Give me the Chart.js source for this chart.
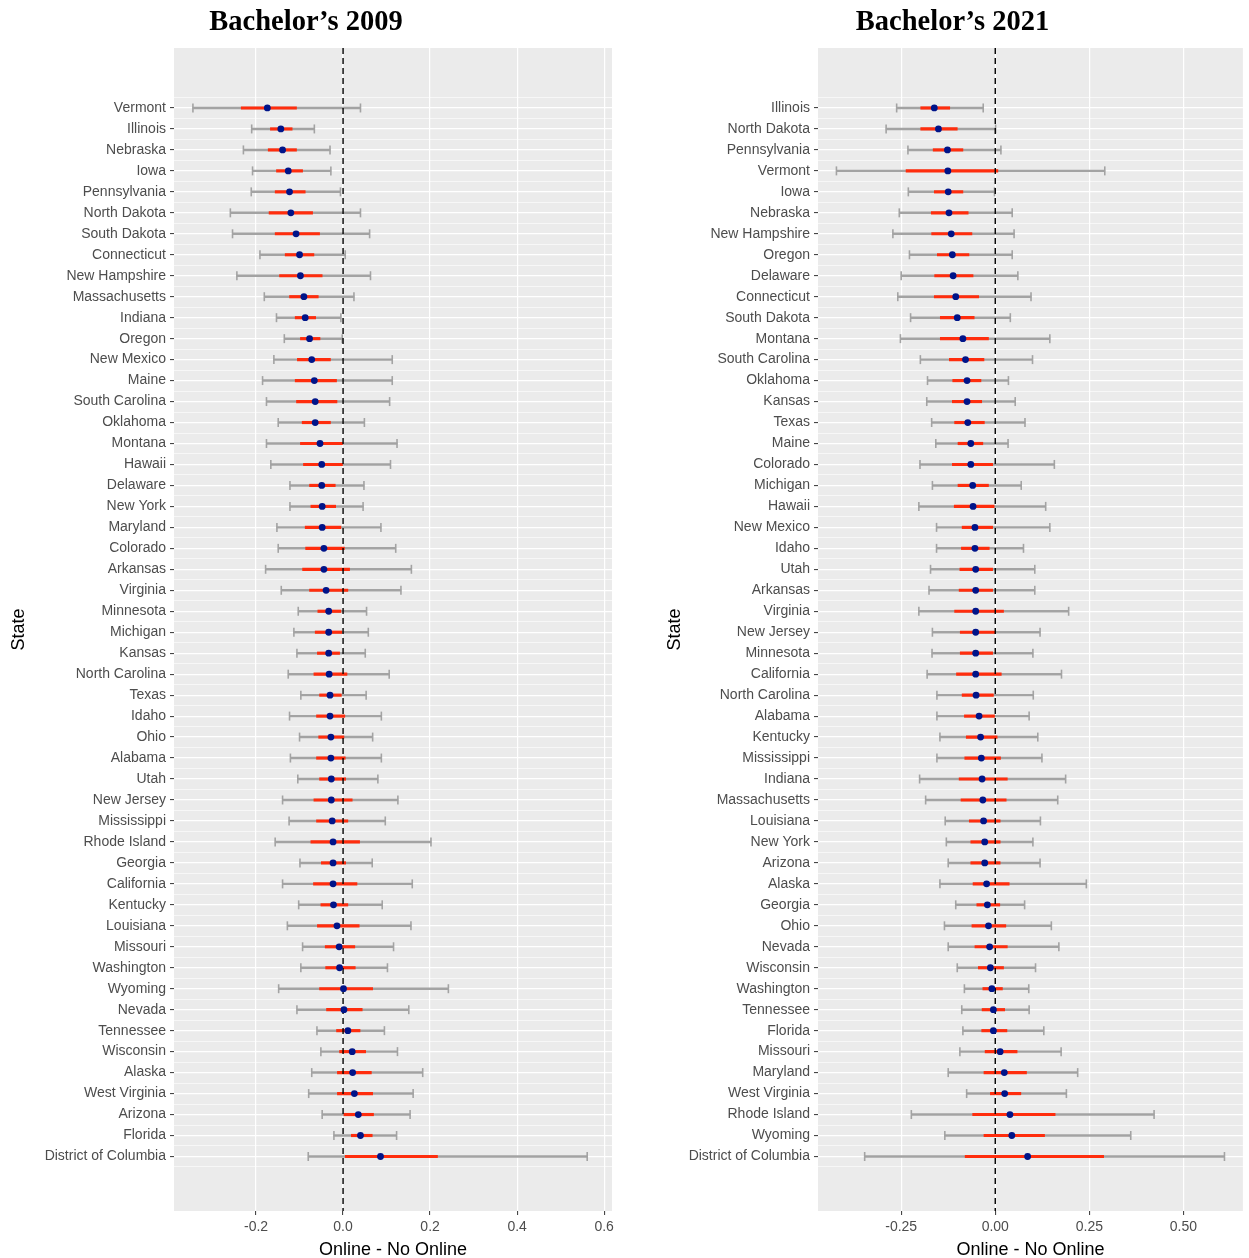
<!DOCTYPE html>
<html>
<head>
<meta charset="utf-8">
<script src="https://cdn.jsdelivr.net/npm/chart.js@4.4.1/dist/chart.umd.min.js"></script>
<style>
html, body { margin: 0; padding: 0; background: #fff; }
#wrap { position: relative; width: 1249px; height: 1258px; }
#box1 { position: absolute; left: 0; top: 0; width: 620px; height: 1258px; }
#box2 { position: absolute; left: 656px; top: 0; width: 593px; height: 1258px; }
</style>
</head>
<body>
<div id="wrap">
  <div id="box1"><canvas id="c2009"></canvas></div>
  <div id="box2"><canvas id="c2021"></canvas></div>
</div>
<script>
// Bachelor's 2009
const states2009 = ["Vermont", "Illinois", "Nebraska", "Iowa", "Pennsylvania", "North Dakota", "South Dakota",
  "Connecticut", "New Hampshire", "Massachusetts", "Indiana", "Oregon", "New Mexico", "Maine", "South Carolina",
  "Oklahoma", "Montana", "Hawaii", "Delaware", "New York", "Maryland", "Colorado", "Arkansas", "Virginia",
  "Minnesota", "Michigan", "Kansas", "North Carolina", "Texas", "Idaho", "Ohio", "Alabama", "Utah", "New Jersey",
  "Mississippi", "Rhode Island", "Georgia", "California", "Kentucky", "Louisiana", "Missouri", "Washington",
  "Wyoming", "Nevada", "Tennessee", "Wisconsin", "Alaska", "West Virginia", "Arizona", "Florida",
  "District of Columbia"];
const est2009 = [-0.174, -0.143, -0.139, -0.126, -0.123, -0.120, -0.108, -0.100, -0.098, -0.090, -0.087, -0.077,
  -0.072, -0.066, -0.064, -0.064, -0.053, -0.049, -0.049, -0.048, -0.048, -0.044, -0.044, -0.039, -0.033, -0.033,
  -0.033, -0.032, -0.030, -0.030, -0.028, -0.028, -0.027, -0.027, -0.025, -0.023, -0.023, -0.023, -0.022, -0.014,
  -0.009, -0.008, 0.001, 0.002, 0.011, 0.021, 0.022, 0.026, 0.035, 0.040, 0.086];
const lo95_2009 = [-0.345, -0.210, -0.229, -0.208, -0.211, -0.259, -0.254, -0.191, -0.244, -0.181, -0.153, -0.135,
  -0.159, -0.185, -0.176, -0.149, -0.176, -0.166, -0.122, -0.122, -0.152, -0.149, -0.178, -0.142, -0.103, -0.113,
  -0.106, -0.126, -0.097, -0.123, -0.100, -0.121, -0.104, -0.139, -0.124, -0.156, -0.099, -0.139, -0.102, -0.128,
  -0.093, -0.097, -0.148, -0.106, -0.060, -0.051, -0.072, -0.079, -0.048, -0.021, -0.080];
const hi95_2009 = [0.040, -0.066, -0.030, -0.028, -0.006, 0.040, 0.061, 0.005, 0.063, 0.025, -0.005, -0.002,
  0.113, 0.113, 0.107, 0.049, 0.124, 0.109, 0.048, 0.046, 0.087, 0.121, 0.157, 0.133, 0.054, 0.058, 0.051, 0.106,
  0.053, 0.088, 0.068, 0.088, 0.080, 0.126, 0.097, 0.202, 0.067, 0.159, 0.090, 0.156, 0.116, 0.102, 0.242, 0.151,
  0.095, 0.125, 0.183, 0.161, 0.154, 0.123, 0.561];
const lo68_2009 = [-0.234, -0.167, -0.172, -0.153, -0.156, -0.170, -0.156, -0.133, -0.146, -0.123, -0.110, -0.098,
  -0.105, -0.110, -0.107, -0.094, -0.098, -0.091, -0.077, -0.074, -0.087, -0.086, -0.093, -0.077, -0.058, -0.064,
  -0.059, -0.067, -0.054, -0.061, -0.056, -0.061, -0.054, -0.067, -0.061, -0.074, -0.050, -0.068, -0.051, -0.059,
  -0.041, -0.040, -0.054, -0.038, -0.015, -0.008, -0.013, -0.013, 0.002, 0.019, 0.005];
const hi68_2009 = [-0.107, -0.117, -0.107, -0.093, -0.087, -0.070, -0.054, -0.067, -0.048, -0.057, -0.063, -0.053,
  -0.029, -0.015, -0.014, -0.029, 0.000, 0.000, -0.018, -0.017, -0.005, 0.003, 0.015, 0.011, -0.005, -0.003,
  -0.008, 0.009, -0.004, 0.004, 0.002, 0.005, 0.006, 0.021, 0.011, 0.038, 0.006, 0.032, 0.011, 0.037, 0.027,
  0.028, 0.068, 0.044, 0.039, 0.052, 0.065, 0.068, 0.070, 0.067, 0.217];

// Bachelor's 2021
const states2021 = ["Illinois", "North Dakota", "Pennsylvania", "Vermont", "Iowa", "Nebraska", "New Hampshire",
  "Oregon", "Delaware", "Connecticut", "South Dakota", "Montana", "South Carolina", "Oklahoma", "Kansas", "Texas",
  "Maine", "Colorado", "Michigan", "Hawaii", "New Mexico", "Idaho", "Utah", "Arkansas", "Virginia", "New Jersey",
  "Minnesota", "California", "North Carolina", "Alabama", "Kentucky", "Mississippi", "Indiana", "Massachusetts",
  "Louisiana", "New York", "Arizona", "Alaska", "Georgia", "Ohio", "Nevada", "Wisconsin", "Washington",
  "Tennessee", "Florida", "Missouri", "Maryland", "West Virginia", "Rhode Island", "Wyoming",
  "District of Columbia"];
const est2021 = [-0.162, -0.151, -0.127, -0.126, -0.125, -0.123, -0.117, -0.114, -0.112, -0.105, -0.101, -0.086,
  -0.079, -0.075, -0.075, -0.073, -0.065, -0.065, -0.060, -0.059, -0.054, -0.054, -0.052, -0.052, -0.052, -0.052,
  -0.052, -0.052, -0.051, -0.043, -0.039, -0.037, -0.035, -0.033, -0.031, -0.028, -0.028, -0.023, -0.021, -0.018,
  -0.015, -0.013, -0.009, -0.005, -0.005, 0.013, 0.024, 0.025, 0.039, 0.044, 0.086];
const lo95_2021 = [-0.262, -0.290, -0.232, -0.422, -0.231, -0.255, -0.272, -0.228, -0.250, -0.259, -0.225, -0.252,
  -0.199, -0.180, -0.182, -0.169, -0.158, -0.200, -0.167, -0.203, -0.156, -0.156, -0.172, -0.176, -0.203, -0.167,
  -0.168, -0.181, -0.155, -0.155, -0.147, -0.155, -0.201, -0.185, -0.133, -0.130, -0.125, -0.147, -0.105, -0.135,
  -0.125, -0.101, -0.082, -0.089, -0.086, -0.094, -0.125, -0.076, -0.223, -0.134, -0.347];
const hi95_2021 = [-0.032, 0.001, 0.015, 0.291, -0.002, 0.045, 0.050, 0.045, 0.060, 0.095, 0.040, 0.145, 0.099,
  0.035, 0.053, 0.079, 0.034, 0.157, 0.069, 0.134, 0.145, 0.075, 0.105, 0.105, 0.195, 0.119, 0.100, 0.176, 0.101,
  0.090, 0.113, 0.124, 0.187, 0.166, 0.120, 0.100, 0.119, 0.242, 0.078, 0.149, 0.169, 0.107, 0.089, 0.090, 0.129,
  0.175, 0.219, 0.189, 0.422, 0.360, 0.609];
const lo68_2021 = [-0.198, -0.198, -0.165, -0.237, -0.162, -0.170, -0.169, -0.154, -0.161, -0.162, -0.146, -0.146,
  -0.122, -0.113, -0.114, -0.108, -0.099, -0.114, -0.099, -0.109, -0.088, -0.090, -0.094, -0.096, -0.108, -0.093,
  -0.093, -0.103, -0.088, -0.082, -0.077, -0.081, -0.096, -0.091, -0.069, -0.065, -0.065, -0.059, -0.049, -0.062,
  -0.054, -0.045, -0.033, -0.035, -0.036, -0.027, -0.030, -0.013, -0.060, -0.030, -0.080];
const hi68_2021 = [-0.121, -0.101, -0.086, 0.007, -0.086, -0.072, -0.062, -0.070, -0.059, -0.044, -0.056, -0.018,
  -0.030, -0.038, -0.036, -0.029, -0.033, -0.007, -0.018, -0.003, -0.007, -0.016, -0.007, -0.007, 0.022, 0.001,
  -0.007, 0.016, -0.005, -0.002, 0.005, 0.014, 0.032, 0.029, 0.013, 0.013, 0.013, 0.037, 0.012, 0.028, 0.032,
  0.022, 0.019, 0.025, 0.031, 0.058, 0.083, 0.068, 0.159, 0.131, 0.288];

const ticks2009 = [-0.2, 0.0, 0.2, 0.4, 0.6];
const ticks2021 = [-0.25, 0.0, 0.25, 0.5];

const GRAY = "#a3a3a3";
const RED = "#ff2d0d";
const NAVY = "#001489";
const Y_MIN = -2.86, Y_MAX = 52.60;

const panelBg = {
  id: "panelBg",
  beforeDraw(chart) {
    const { ctx, chartArea: a } = chart;
    ctx.save();
    ctx.fillStyle = "#ebebeb";
    ctx.fillRect(a.left, a.top, a.width, a.height);
    ctx.restore();
  }
};

function makeChart(id, title, states, est, lo95, hi95, lo68, hi68, xMin, xMax, xTicks, digits, yWidth, padRight) {
  const ctx = document.getElementById(id).getContext("2d");
  const caps = states.map((s, i) => ({ x: lo95[i], y: i })).concat(states.map((s, i) => ({ x: hi95[i], y: i })));
  const yTicks = [];
  for (let v = -0.5; v <= states.length - 0.5; v += 0.5) yTicks.push(v);

  return new Chart(ctx, {
    type: "bar",
    data: {
      datasets: [
        { type: "scatter", order: 0, data: states.map((s, i) => ({ x: est[i], y: i })),
          pointRadius: 3.4, pointBackgroundColor: NAVY, pointBorderColor: NAVY, pointBorderWidth: 0 },
        { type: "scatter", order: 1, showLine: true, data: [{ x: 0, y: Y_MIN }, { x: 0, y: Y_MAX }],
          borderColor: "#000", borderWidth: 1.4, borderDash: [6, 4], pointRadius: 0 },
        { type: "scatter", order: 2, data: caps, pointStyle: "line", rotation: 90,
          pointRadius: 4.5, pointBorderColor: GRAY, pointBorderWidth: 1.6 },
        { type: "bar", order: 3, grouped: false, barThickness: 2.5, backgroundColor: RED,
          data: states.map((s, i) => ({ x: [lo68[i], hi68[i]], y: i })) },
        { type: "bar", order: 4, grouped: false, barThickness: 1.8, backgroundColor: GRAY,
          data: states.map((s, i) => ({ x: [lo95[i], hi95[i]], y: i })) }
      ]
    },
    options: {
      indexAxis: "y",
      responsive: true,
      maintainAspectRatio: false,
      animation: false,
      devicePixelRatio: 1,
      layout: { padding: { left: 0, right: padRight, top: 0, bottom: 0 } },
      plugins: {
        legend: { display: false },
        tooltip: { enabled: false },
        title: {
          display: true, text: title, color: "#000",
          font: { family: "'Liberation Serif', 'Times New Roman', serif", size: 28.5, weight: "bold" },
          padding: { top: 6, bottom: 7.8 }
        }
      },
      scales: {
        x: {
          type: "linear", min: xMin, max: xMax,
          afterBuildTicks: (s) => { s.ticks = xTicks.map(v => ({ value: v })); },
          afterFit: (s) => { s.height = 47; },
          border: { display: false },
          grid: { color: "#fff", lineWidth: 1.2, tickLength: 4, tickColor: "#333", tickWidth: 1 },
          ticks: {
            color: "#4d4d4d", padding: 4,
            font: { family: "'Liberation Sans', Arial, sans-serif", size: 14 },
            callback: (v) => Number(v).toFixed(digits)
          },
          title: {
            display: true, text: "Online - No Online", color: "#000",
            font: { family: "'Liberation Sans', Arial, sans-serif", size: 18 },
            padding: { top: 0, bottom: -3 }
          }
        },
        y: {
          type: "linear", reverse: true, min: Y_MIN, max: Y_MAX, offset: false,
          afterBuildTicks: (s) => { s.ticks = yTicks.map(v => ({ value: v })); },
          afterFit: (s) => { s.width = yWidth; },
          border: { display: false },
          grid: {
            color: "#fff",
            offset: false,
            lineWidth: (c) => (c.tick && Number.isInteger(c.tick.value)) ? 1.2 : 0.6,
            tickLength: 4,
            tickWidth: 1,
            tickColor: (c) => (c.tick && Number.isInteger(c.tick.value)) ? "#333" : "rgba(0,0,0,0)"
          },
          ticks: {
            autoSkip: false, padding: 4, color: "#4d4d4d",
            font: { family: "'Liberation Sans', Arial, sans-serif", size: 14 },
            callback: (v) => Number.isInteger(v) && states[v] !== undefined ? states[v] : ""
          },
          title: {
            display: true, text: "State", color: "#000",
            font: { family: "'Liberation Sans', Arial, sans-serif", size: 18 },
            padding: { top: 8, bottom: 0 }
          }
        }
      }
    },
    plugins: [panelBg]
  });
}

makeChart("c2009", "Bachelor\u2019s 2009", states2009, est2009, lo95_2009, hi95_2009, lo68_2009, hi68_2009,
  -0.3885, 0.618, ticks2009, 1, 174, 8);
makeChart("c2021", "Bachelor\u2019s 2021", states2021, est2021, lo95_2021, hi95_2021, lo68_2021, hi68_2021,
  -0.471, 0.658, ticks2021, 2, 162, 0);
</script>
</body>
</html>
